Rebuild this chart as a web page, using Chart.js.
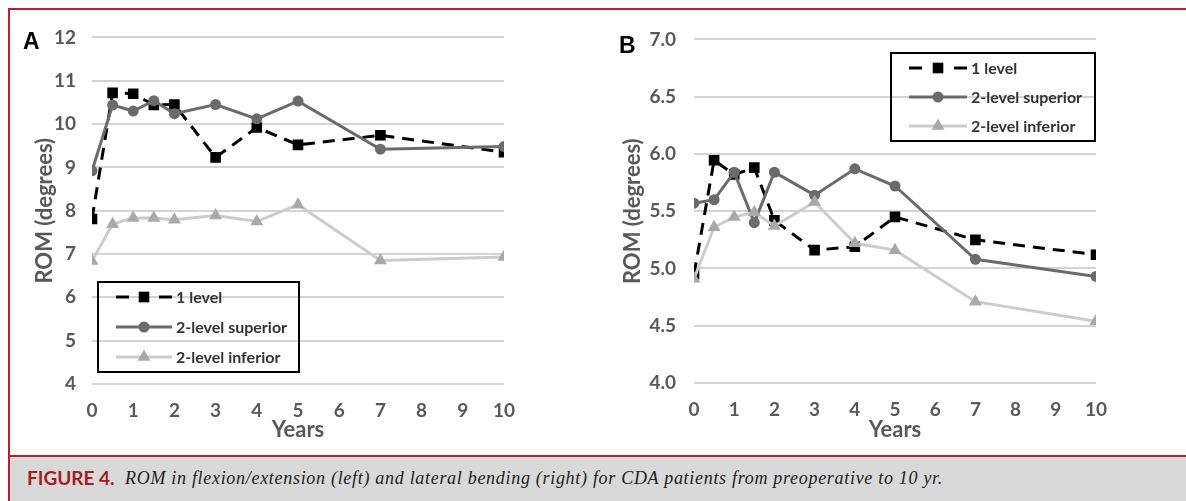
<!DOCTYPE html>
<html lang="en">
<head>
    <meta charset="UTF-8">
    <title>Figure 4 - ROM</title>
    <script src="https://cdn.jsdelivr.net/npm/chart.js"></script>
    <style>
        body { margin: 0; background: #fff; }
        #page { position: relative; width: 1186px; height: 501px; overflow: hidden; background: #fff; }
        .frame { position: absolute; left: 8px; top: 8px; width: 1178px; height: 493px;
                 border-left: 2px solid #b5222b; border-top: 2px solid #b5222b; box-sizing: border-box; }
        canvas { position: absolute; }
        #flex { left: 10px; top: 10px; }
        #lat { left: 593px; top: 10px; }
        .panel { position: absolute; font: bold 23px "Liberation Sans", Arial, sans-serif; line-height: 23px; color: #000; }
        .caption { position: absolute; left: 10px; top: 455px; width: 1176px; height: 46px;
                   background: #d9d9d9; border-top: 2px solid #b5222b; box-sizing: border-box; }
        .caption span { position: absolute; top: 0; line-height: 42px; white-space: nowrap; }
        .fig { left: 17px; font: bold 19px Lato, sans-serif; color: #a11c24; }
        .txt { left: 115px; font: italic 18px "Liberation Serif", serif; letter-spacing: 0.7px; color: #222; }
    </style>
</head>
<body>
<div id="page">
    <div class="frame"></div>
    <canvas id="flex" width="583" height="445"></canvas>
    <canvas id="lat" width="593" height="445"></canvas>
    <div class="panel" style="left:23px; top:30px;">A</div>
    <div class="panel" style="left:619px; top:34px;">B</div>
    <div class="caption">
        <span class="fig">FIGURE 4.</span>
        <span class="txt">ROM in flexion/extension (left) and lateral bending (right) for CDA patients from preoperative to 10 yr.</span>
    </div>
</div>

<script>
    // 年数 (x)
    const years = [0, 0.5, 1, 1.5, 2, 3, 4, 5, 7, 10];
    const seriesNames = ['1 level', '2-level superior', '2-level inferior'];

    // A: flexion/extension
    const flexOneLevel = [7.81, 10.72, 10.70, 10.44, 10.45, 9.23, 9.92, 9.52, 9.74, 9.35];
    const flexSuperior = [8.92, 10.44, 10.30, 10.54, 10.24, 10.45, 10.12, 10.53, 9.42, 9.48];
    const flexInferior = [6.84, 7.69, 7.83, 7.83, 7.79, 7.89, 7.75, 8.14, 6.85, 6.93];
    const flexTicks = [4, 5, 6, 7, 8, 9, 10, 11, 12];

    // B: lateral bending
    const latOneLevel = [4.95, 5.945, 5.82, 5.88, 5.42, 5.16, 5.19, 5.45, 5.25, 5.12];
    const latSuperior = [5.57, 5.60, 5.84, 5.40, 5.84, 5.64, 5.87, 5.72, 5.08, 4.93];
    const latInferior = [4.91, 5.36, 5.45, 5.49, 5.37, 5.58, 5.22, 5.16, 4.71, 4.54];
    const latTicks = [4.0, 4.5, 5.0, 5.5, 6.0, 6.5, 7.0];

    const xTicks = [0, 1, 2, 3, 4, 5, 6, 7, 8, 9, 10];

    const GREY_TEXT = '#595959';

    function pts(values) {
        return years.map((x, i) => ({ x: x, y: values[i] }));
    }

    function makeDatasets(one, sup, inf) {
        return [
            { label: seriesNames[0], data: pts(one), order: 3,
              borderColor: '#000', borderWidth: 3, borderDash: [12, 8],
              pointStyle: 'rect', pointRadius: 7.5, pointBackgroundColor: '#000', pointBorderWidth: 0 },
            { label: seriesNames[1], data: pts(sup), order: 2,
              borderColor: '#6b6b6b', borderWidth: 3,
              pointStyle: 'circle', pointRadius: 5.5, pointBackgroundColor: '#6b6b6b', pointBorderWidth: 0 },
            { label: seriesNames[2], data: pts(inf), order: 1,
              borderColor: '#cccccc', borderWidth: 3,
              pointStyle: 'triangle', pointRadius: 7.5, pointBackgroundColor: '#a9a9a9', pointBorderWidth: 0 }
        ];
    }

    // 枠付き凡例（チャート内）
    const boxLegend = {
        id: 'boxLegend',
        afterDraw(chart, args, o) {
            const ctx = chart.ctx;
            ctx.save();
            ctx.lineWidth = 2;
            ctx.strokeStyle = '#000';
            ctx.strokeRect(o.x, o.y, o.w, o.h);
            chart.data.datasets.forEach((ds, i) => {
                const y = o.y + o.first + i * o.step;
                const x0 = o.x + 18, x1 = x0 + o.len, xm = (x0 + x1) / 2;
                ctx.lineWidth = ds.borderWidth;
                ctx.strokeStyle = ds.borderColor;
                ctx.beginPath();
                if (ds.borderDash) {
                    ctx.moveTo(x0, y); ctx.lineTo(x0 + 13, y);
                    ctx.moveTo(x1 - 13, y); ctx.lineTo(x1, y);
                } else {
                    ctx.moveTo(x0, y); ctx.lineTo(x1, y);
                }
                ctx.stroke();
                ctx.fillStyle = ds.pointBackgroundColor;
                Chart.helpers.drawPoint(ctx, { pointStyle: ds.pointStyle, radius: ds.pointRadius, borderWidth: 0 }, xm, y);
                ctx.fillStyle = '#333';
                ctx.font = 'bold 16px Lato, sans-serif';
                ctx.textBaseline = 'middle';
                ctx.textAlign = 'left';
                ctx.fillText(ds.label, x1 + 4, y + 1);
            });
            ctx.restore();
        }
    };

    function makeChart(id, datasets, ticks, fmt, L) {
        new Chart(document.getElementById(id), {
            type: 'scatter',
            data: { datasets: datasets },
            options: {
                responsive: false,
                animation: false,
                devicePixelRatio: 1,
                showLine: true,
                layout: { padding: { left: 0, top: L.top, right: L.right, bottom: 0 } },
                scales: {
                    x: {
                        type: 'linear', min: 0, max: 10,
                        afterFit: s => { s.height = L.xh; },
                        afterBuildTicks: s => { s.ticks = xTicks.map(v => ({ value: v })); },
                        grid: { display: false, drawTicks: false },
                        border: { display: false },
                        ticks: { color: GREY_TEXT, padding: 15, font: { family: 'Lato', size: 19, weight: 'bold' } },
                        title: { display: true, text: 'Years', color: GREY_TEXT, padding: { top: 0, bottom: 12 },
                                 font: { family: 'Lato', size: 22, weight: 'bold' } }
                    },
                    y: {
                        min: ticks[0], max: ticks[ticks.length - 1],
                        afterFit: s => { s.width = L.yw; },
                        afterBuildTicks: s => { s.ticks = ticks.map(v => ({ value: v })); },
                        grid: { color: '#d4d4d4', lineWidth: 2, drawTicks: false },
                        border: { display: false },
                        ticks: { color: GREY_TEXT, padding: L.tp, callback: fmt,
                                 font: { family: 'Lato', size: 19, weight: 'bold' } },
                        title: { display: true, text: 'ROM (degrees)', color: GREY_TEXT, padding: { top: L.tt, bottom: 0 },
                                 font: { family: 'Lato', size: 22, weight: 'bold' } }
                    }
                },
                plugins: {
                    legend: { display: false },
                    tooltip: { enabled: false },
                    boxLegend: L.legend
                }
            },
            plugins: [boxLegend]
        });
    }

    makeChart('flex', makeDatasets(flexOneLevel, flexSuperior, flexInferior), flexTicks, v => v,
        { top: 26, right: 89, xh: 71, yw: 82, tp: 16, tt: 22,
          legend: { x: 88, y: 272, w: 201, h: 90, first: 15, step: 30, len: 56 } });

    makeChart('lat', makeDatasets(latOneLevel, latSuperior, latInferior), latTicks, v => v.toFixed(1),
        { top: 28, right: 90, xh: 72, yw: 101, tp: 18, tt: 27,
          legend: { x: 298, y: 43, w: 204, h: 88, first: 15, step: 29, len: 58 } });
</script>
</body>
</html>
